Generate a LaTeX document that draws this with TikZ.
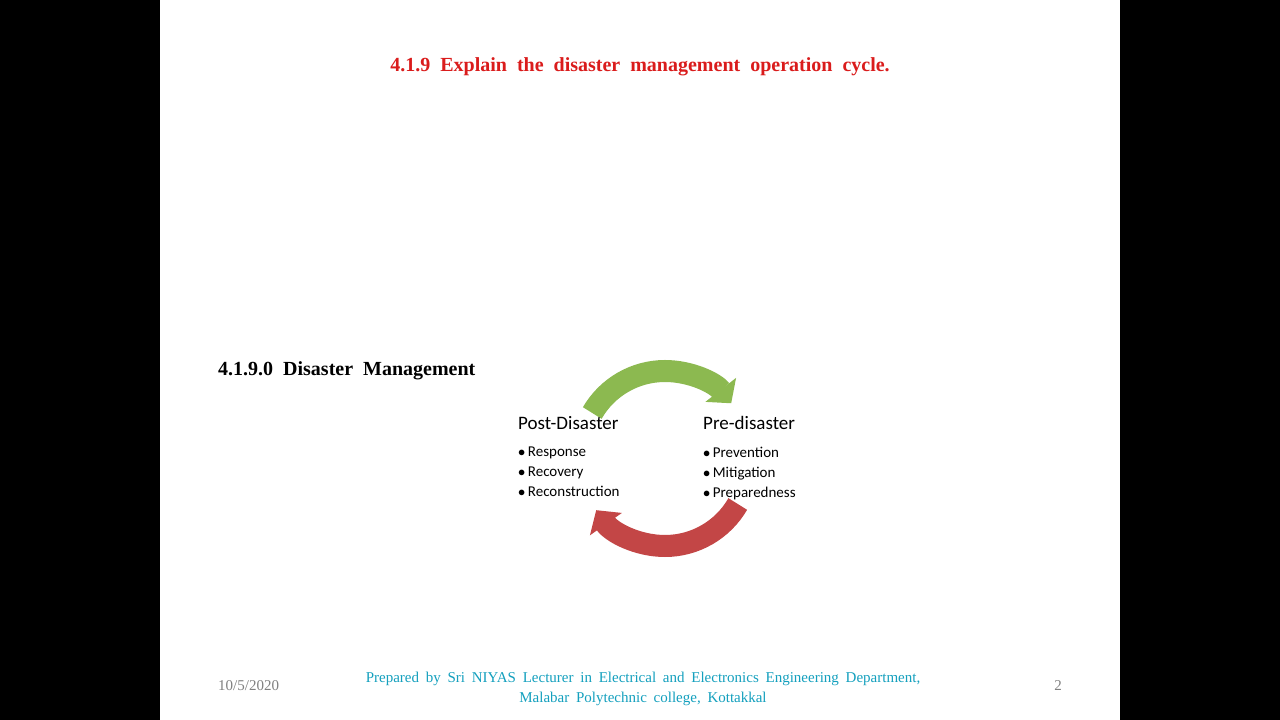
\documentclass[tikz,border=0pt]{standalone}
\usepackage{fontspec}
\setmainfont{Liberation Serif}
\newfontfamily\calib{Carlito}
\usetikzlibrary{arrows.meta}
\definecolor{titlered}{RGB}{218,28,28}
\definecolor{teal}{RGB}{20,160,190}
\definecolor{grn}{RGB}{140,185,80}
\definecolor{rd}{RGB}{195,70,70}
\begin{document}
\begin{tikzpicture}[x=1pt,y=1pt,
  band/.style={line width=22pt},
  lbl/.style={font=\calib\fontsize{19}{20}\selectfont,anchor=west,inner sep=0},
  itm/.style={font=\calib\fontsize{15}{20}\selectfont,anchor=north west,align=left,inner sep=0}]
\useasboundingbox (0,0) rectangle (1280,720);
\fill[black] (0,0) rectangle (160,720);
\fill[black] (1120,0) rectangle (1280,720);
\fill[white] (160,0) rectangle (1120,720);
\node (title) at (640,653) {\fontsize{20}{22}\selectfont\bfseries\color{titlered}\spaceskip=0.5em 4.1.9 Explain the disaster management operation cycle.};
\node[anchor=west,inner sep=0] (head) at (218,349) {\fontsize{20}{22}\selectfont\bfseries\spaceskip=0.5em 4.1.9.0 Disaster Management};
\draw[band,grn,-{Triangle[width=38pt,length=17pt]}] (665,265)+(150:84) arc (150:38:84);
\draw[band,rd,-{Triangle[width=38pt,length=17pt]}] (665,258)+(-30:84) arc (-30:-145:84);
\node[lbl] (post) at (518,297) {Post-Disaster};
\node[lbl] (pre) at (703,297) {Pre-disaster};
\node[itm] (pl) at (518,273) {$\bullet$\,Response\\$\bullet$\,Recovery\\$\bullet$\,Reconstruction};
\node[itm] (pr) at (703,273) {$\bullet$\,Prevention\\$\bullet$\,Mitigation\\$\bullet$\,Preparedness};
\node[anchor=west,inner sep=0,text=gray] (date) at (218,34) {\fontsize{15}{16}\selectfont 10/5/2020};
\node[align=center,text=teal,font=\fontsize{15}{20}\selectfont] (foot) at (643,31) {\spaceskip=0.45em Prepared by Sri NIYAS Lecturer in Electrical and Electronics Engineering Department,\\ \spaceskip=0.45em Malabar Polytechnic college, Kottakkal};
\node[text=gray] (pg) at (1058,34) {\fontsize{15}{16}\selectfont 2};
\end{tikzpicture}
\end{document}
